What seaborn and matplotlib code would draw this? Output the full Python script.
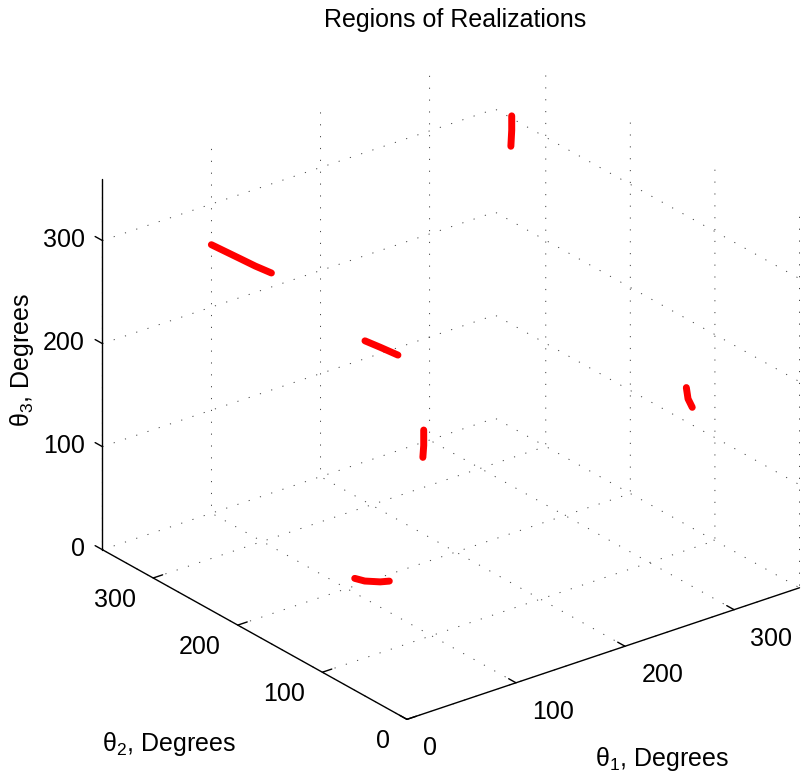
import matplotlib
matplotlib.use("Agg")
import matplotlib.pyplot as plt
import seaborn as sns

sns.set_theme(style="white")
plt.rcParams["font.family"] = ["Liberation Sans", "DejaVu Sans"]
plt.rcParams["mathtext.fontset"] = "custom"
plt.rcParams["mathtext.rm"] = "Liberation Sans"
plt.rcParams["mathtext.it"] = "Liberation Sans:italic"
plt.rcParams["text.color"] = "black"
plt.rcParams["axes.labelcolor"] = "black"
plt.rcParams["xtick.color"] = "black"
plt.rcParams["ytick.color"] = "black"

# Six realization regions, angles in degrees
theta1 = [
    [335, 335, 335, 335, 335],
    [20, 20, 20, 20, 20],
    [150, 150, 150],
    [340, 340, 340],
    [200, 200, 200],
    [115, 118, 126, 132],
]
theta2 = [
    [308, 308, 308, 308.5, 309],
    [257, 240, 223, 205, 186],
    [243, 225, 204],
    [108, 106, 101],
    [238, 238, 239],
    [210, 202, 194, 191],
]
theta3 = [
    [326, 319, 312, 304, 296],
    [336, 337, 338, 339, 341],
    [203, 205, 207],
    [152, 142, 136],
    [101, 86, 74],
    [0, 0, 0, 0],
]
ticks = [0, 100, 200, 300]
lim = (0, 360)
FS = 18

fig = plt.figure(figsize=(8.03, 7.81), dpi=100)
ax = fig.add_axes([0.0423, -0.0104, 1.012, 1.012], projection="3d",
                  proj_type="ortho")
ax.view_init(elev=25.6, azim=-127.8)
ax.set_box_aspect((1, 1, 0.828))

for t1, t2, t3 in zip(theta1, theta2, theta3):
    ax.plot(t1, t2, t3, color="red", lw=5, solid_capstyle="round")

ax.set_xlim(*lim); ax.set_ylim(*lim); ax.set_zlim(*lim)
ax.set_xticks(ticks); ax.set_yticks(ticks); ax.set_zticks(ticks)

# vertical-axis ticks point along theta2, away from the box
try:
    info = {k: dict(v) for k, v in ax.zaxis._AXINFO.items()}
    info["z"]["tickdir"] = 1
    ax.zaxis._AXINFO = info
except Exception:
    pass

for axis in (ax.xaxis, ax.yaxis, ax.zaxis):
    axis.set_pane_color((1, 1, 1, 0))
    axis.pane.set_edgecolor("none")
    axis.line.set_color("black")
    axis.line.set_linewidth(1.0)
    axis._axinfo["grid"].update(color="#444444", linewidth=0.7,
                                linestyle=(0, (1.2, 11)))
    axis._axinfo["tick"].update(inward_factor=0.0, outward_factor=0.3)
    axis._axinfo["tick"]["linewidth"] = {True: 1.0, False: 0.5}
    axis._axinfo["tick"]["color"] = "black"

ax.xaxis.set_tick_params(labelsize=FS, labelcolor="black", color="black", pad=7.9)
ax.yaxis.set_tick_params(labelsize=FS, labelcolor="black", color="black", pad=4.8)
ax.zaxis.set_tick_params(labelsize=FS, labelcolor="black", color="black", pad=-0.6)
for lab in ax.get_xticklabels():
    lab.set_ha("left"); lab.set_va("center")
for lab in ax.get_yticklabels():
    lab.set_ha("right"); lab.set_va("center")
for lab in ax.get_zticklabels():
    lab.set_ha("right"); lab.set_va("center")

ax.xaxis.set_rotate_label(False)
ax.yaxis.set_rotate_label(False)
ax.set_xlabel(r"θ$_1$, Degrees", fontsize=FS, color="black", labelpad=36.6)
ax.set_ylabel(r"θ$_2$, Degrees", fontsize=FS, color="black", labelpad=43.3)
ax.set_zlabel(r"θ$_3$, Degrees", fontsize=FS, color="black", labelpad=13.2)

fig.text(0.567, 0.9744, "Regions of Realizations", fontsize=FS,
         color="black", ha="center", va="center")

fig.savefig("out.png", dpi=100)
